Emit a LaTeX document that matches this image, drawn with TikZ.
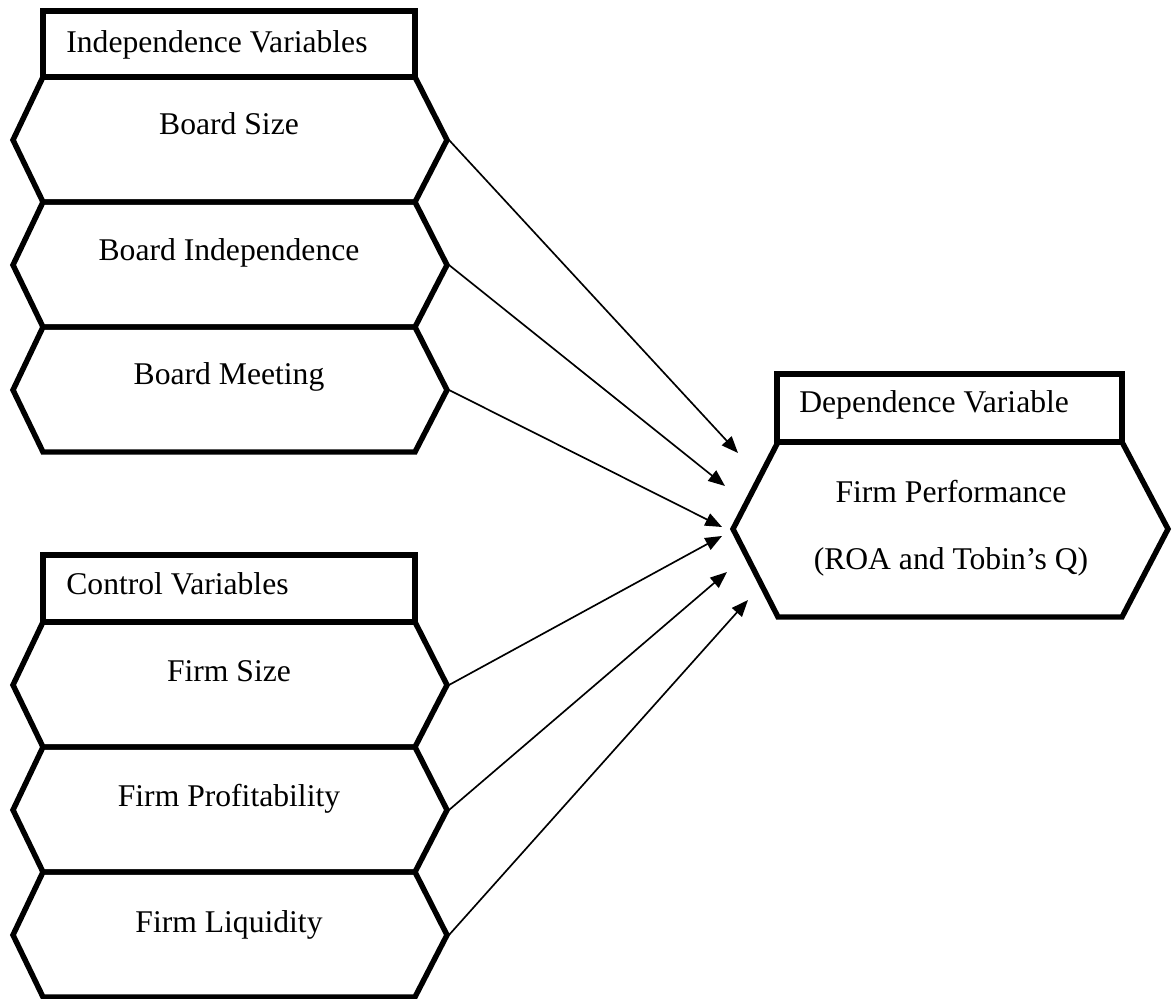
\documentclass[tikz,border=0pt]{standalone}
\usepackage{fontspec}
\setmainfont{Liberation Serif}
\usetikzlibrary{arrows.meta}
\begin{document}
\begin{tikzpicture}[x=0.02cm,y=-0.02cm,
  thickline/.style={draw=black,line width=3.1pt,line join=miter},
  conn/.style={draw=black,line width=0.95pt,-{Triangle[length=9.5pt,width=7.5pt]}},
  lbl/.style={font=\fontsize{18}{21}\selectfont,inner sep=0pt,anchor=base},
  hdr/.style={font=\fontsize{18}{21}\selectfont,inner sep=0pt,anchor=base west}]
\useasboundingbox (0,0) rectangle (1173,999);
% left hexagons: top, mid, bottom
\foreach \t/\m/\b/\n in {77/140/202/h1,202/265/327/h2,327/390/452/h3,622/685/747/h4,747/810/872/h5,872/935/997/h6}{
  \draw[thickline] (43,\t) -- (415,\t) -- (447,\m) -- (415,\b) -- (43,\b) -- (13,\m) -- cycle;
  \coordinate (\n) at (449,\m);
}
% headers
\draw[thickline] (43,11) rectangle (415,77);
\draw[thickline] (43,555) rectangle (415,622);
\draw[thickline] (777,374) rectangle (1122,442);
% right hexagon
\draw[thickline] (778,442) -- (1122,442) -- (1168,529) -- (1122,617) -- (778,617) -- (733,529) -- cycle;
% texts
\node[hdr] (tiv) at (66,53) {Independence Variables};
\node[hdr] (tcv) at (66,595) {Control Variables};
\node[hdr] (tdv) at (799,413) {Dependence Variable};
\node[lbl] (t1) at (229,135) {Board Size};
\node[lbl] (t2) at (229,261) {Board Independence};
\node[lbl] (t3) at (229,385) {Board Meeting};
\node[lbl] (t4) at (229,682) {Firm Size};
\node[lbl] (t5) at (229,806) {Firm Profitability};
\node[lbl] (t6) at (229,932) {Firm Liquidity};
\node[lbl] (tfp) at (951,503) {Firm Performance};
\node[lbl] (troa) at (951,570) {(ROA and Tobin’s Q)};
% arrow tips
\coordinate (e1) at (738,453);
\coordinate (e2) at (725,486);
\coordinate (e3) at (722,527);
\coordinate (e4) at (722,536);
\coordinate (e5) at (727,572);
\coordinate (e6) at (748,600);
\foreach \i in {1,...,6}{\draw[conn] (h\i) -- (e\i);}
\end{tikzpicture}
\end{document}
